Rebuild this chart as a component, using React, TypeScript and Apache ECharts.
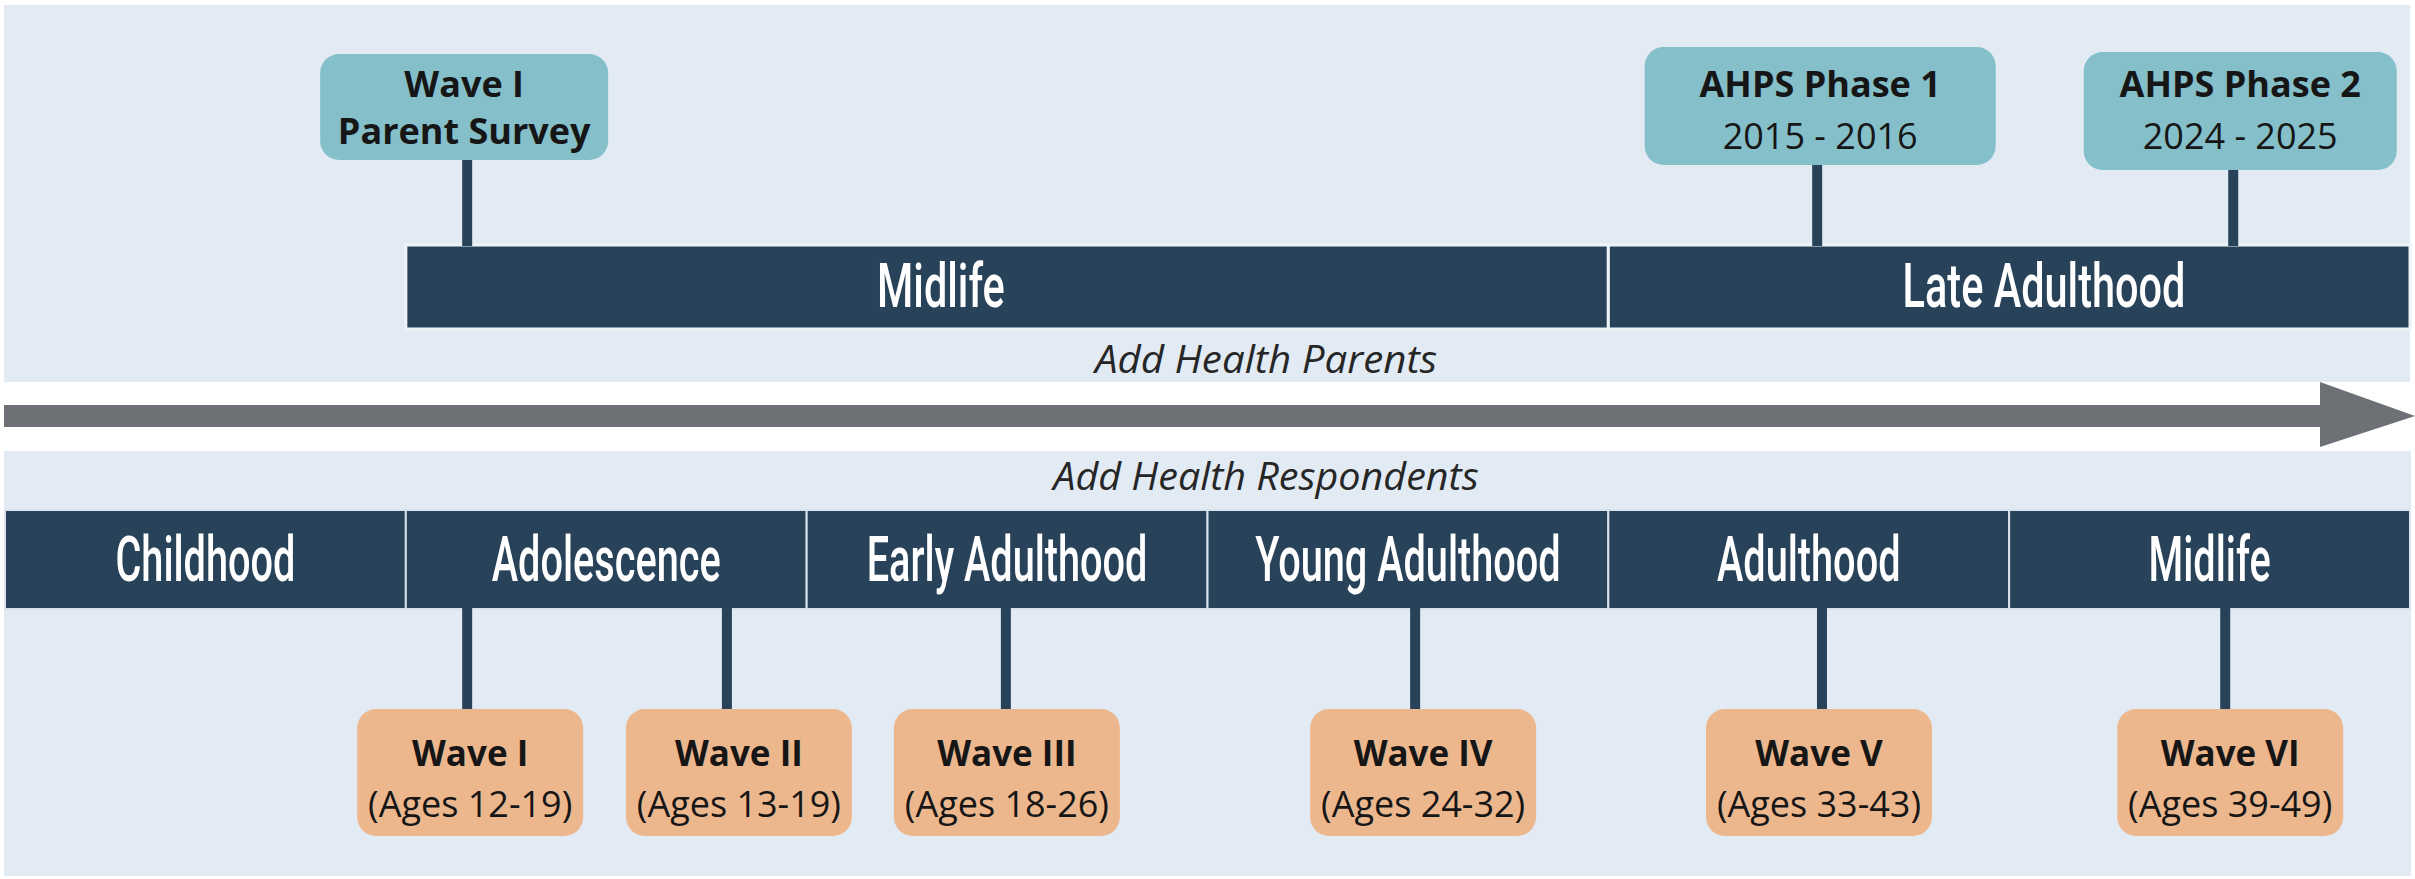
import React, { useEffect, useRef } from "react";
import * as echarts from "echarts";

// ---------- data ----------
const BOTTOM_STAGES = ["Childhood", "Adolescence", "Early Adulthood", "Young Adulthood", "Adulthood", "Midlife"];
const BOTTOM_STAGE_START = [0, 1, 2, 3, 4, 5];
const BOTTOM_STAGE_END = [1, 2, 3, 4, 5, 6];

const TOP_STAGES = ["Midlife", "Late Adulthood"];
const TOP_STAGE_START = [1, 4];
const TOP_STAGE_END = [4, 6];
const TOP_STAGE_LABEL_AT = [2.335, 5.087];

const WAVES = ["Wave I", "Wave II", "Wave III", "Wave IV", "Wave V", "Wave VI"];
const WAVE_AGES = ["(Ages 12-19)", "(Ages 13-19)", "(Ages 18-26)", "(Ages 24-32)", "(Ages 33-43)", "(Ages 39-49)"];
const WAVE_AT = [1.153, 1.801, 2.497, 3.518, 4.533, 5.539];

const PARENT_EVENTS = ["Wave I", "AHPS Phase 1", "AHPS Phase 2"];
const PARENT_EVENT_SUB = ["Parent Survey", "2015 - 2016", "2024 - 2025"];
const PARENT_EVENT_AT = [1.153, 4.521, 5.559];

const PANEL_LABELS = ["Add Health Parents", "Add Health Respondents"];

// ---------- layout / style ----------
const W = 2415;
const H = 879;
const NAVY = "#28425A";
const TEAL = "#84BFCA";
const ORANGE = "#EDB78E";
const PANEL = "#E2EAF3";
const ARROW = "#6D7075";
const INK = "#161616";
const SANS = "'Open Sans', 'Noto Sans', sans-serif";
const COND = "Roboto, 'Noto Sans', sans-serif";

const TOP_BAR = [245, 329];
const BOTTOM_BAR = [510, 609];
const TOP_BOX_W = [288, 351, 313];
const TOP_BOX_TOP = [54, 47, 52];
const TOP_BOX_H = [106, 118, 118];
const TOP_BOX_SHIFT = [-3, 3, 7];
const TOP_SUB_WEIGHT = ["bold", "normal", "normal"];
const WAVE_BOX_SHIFT = [3, 12, 1, 8, -3, 5];

function stageSeries(
  id: string,
  starts: number[],
  ends: number[],
  names: string[],
  labelAt: number[],
  y0: number,
  y1: number,
  fontSize: number,
  squeeze: number,
  sepColor: string,
  sepWidth: number
) {
  return {
    type: "custom",
    id,
    coordinateSystem: "cartesian2d",
    clip: false,
    z: 5,
    silent: true,
    data: starts.map((s, i) => [s, ends[i], labelAt[i]]),
    encode: { x: [0, 1, 2] },
    renderItem: (params: any, api: any) => {
      const i = params.dataIndex;
      const xa = api.coord([api.value(0), 0])[0];
      const xb = api.coord([api.value(1), 0])[0];
      const xl = api.coord([api.value(2), 0])[0];
      return {
        type: "group",
        children: [
          {
            type: "rect",
            shape: { x: xa, y: y0, width: xb - xa, height: y1 - y0 },
            style: { fill: NAVY, stroke: sepColor, lineWidth: sepWidth },
          },
          {
            type: "text",
            x: xl,
            y: (y0 + y1) / 2,
            scaleX: squeeze,
            style: {
              text: names[i],
              x: 0,
              y: 0,
              align: "center",
              verticalAlign: "middle",
              fill: "#FFFFFF",
              fontSize,
              fontWeight: 500,
              fontFamily: COND,
            },
          },
        ],
      };
    },
  };
}

export default function App() {
  const ref = useRef<HTMLDivElement>(null);

  useEffect(() => {
    if (!ref.current) return;
    const chart = echarts.init(ref.current, undefined, { renderer: "svg" });

    const waveSeries = {
      type: "custom",
      id: "waves",
      coordinateSystem: "cartesian2d",
      clip: false,
      z: 6,
      silent: true,
      data: WAVE_AT.map((v) => [v, 0]),
      renderItem: (params: any, api: any) => {
        const i = params.dataIndex;
        const x = api.coord([api.value(0), 0])[0];
        const bx = x + WAVE_BOX_SHIFT[i];
        const top = 709;
        return {
          type: "group",
          children: [
            {
              type: "rect",
              shape: { x: x - 5, y: BOTTOM_BAR[1] - 1, width: 10, height: top - BOTTOM_BAR[1] + 2 },
              style: { fill: NAVY },
            },
            {
              type: "rect",
              shape: { x: bx - 113, y: top, width: 226, height: 127, r: 19 },
              style: { fill: ORANGE },
            },
            {
              type: "text",
              style: {
                text: WAVES[i],
                x: bx,
                y: 752,
                align: "center",
                verticalAlign: "middle",
                fill: INK,
                fontSize: 35,
                fontWeight: "bold",
                fontFamily: SANS,
              },
            },
            {
              type: "text",
              style: {
                text: WAVE_AGES[i],
                x: bx,
                y: 803,
                align: "center",
                verticalAlign: "middle",
                fill: INK,
                fontSize: 36,
                fontWeight: "normal",
                fontFamily: SANS,
              },
            },
          ],
        };
      },
    };

    const parentSeries = {
      type: "custom",
      id: "parents",
      coordinateSystem: "cartesian2d",
      clip: false,
      z: 6,
      silent: true,
      data: PARENT_EVENT_AT.map((v) => [v, 0]),
      renderItem: (params: any, api: any) => {
        const i = params.dataIndex;
        const x = api.coord([api.value(0), 0])[0];
        const bx = x + TOP_BOX_SHIFT[i];
        const w = TOP_BOX_W[i];
        const top = TOP_BOX_TOP[i];
        const h = TOP_BOX_H[i];
        return {
          type: "group",
          children: [
            {
              type: "rect",
              shape: { x: x - 5, y: top + h - 2, width: 10, height: TOP_BAR[0] - (top + h) + 3 },
              style: { fill: NAVY },
            },
            {
              type: "rect",
              shape: { x: bx - w / 2, y: top, width: w, height: h, r: 19 },
              style: { fill: TEAL },
            },
            {
              type: "text",
              style: {
                text: PARENT_EVENTS[i],
                x: bx,
                y: 83,
                align: "center",
                verticalAlign: "middle",
                fill: INK,
                fontSize: 36,
                fontWeight: "bold",
                fontFamily: SANS,
              },
            },
            {
              type: "text",
              style: {
                text: PARENT_EVENT_SUB[i],
                x: bx,
                y: TOP_SUB_WEIGHT[i] === "bold" ? 130 : 135,
                align: "center",
                verticalAlign: "middle",
                fill: INK,
                fontSize: 36,
                fontWeight: TOP_SUB_WEIGHT[i],
                fontFamily: SANS,
              },
            },
          ],
        };
      },
    };

    const option: any = {
      animation: false,
      backgroundColor: "#FFFFFF",
      grid: { left: 5, right: 5, top: 0, bottom: 0, containLabel: false },
      xAxis: { type: "value", min: 0, max: 6, show: false },
      yAxis: { type: "value", min: 0, max: 1, show: false },
      graphic: [
        { type: "rect", z: 0, silent: true, shape: { x: 4, y: 5, width: 2406, height: 377 }, style: { fill: PANEL } },
        { type: "rect", z: 0, silent: true, shape: { x: 4, y: 451, width: 2407, height: 425 }, style: { fill: PANEL } },
        { type: "rect", z: 1, silent: true, shape: { x: 4, y: 405, width: 2320, height: 22 }, style: { fill: ARROW } },
        {
          type: "polygon",
          z: 1,
          silent: true,
          shape: { points: [[2320, 382], [2415, 416], [2320, 447]] },
          style: { fill: ARROW },
        },
        {
          type: "text",
          z: 10,
          silent: true,
          x: 1266,
          y: 358,
          scaleX: 1.06,
          style: {
            text: PANEL_LABELS[0],
            x: 0,
            y: 0,
            align: "center",
            verticalAlign: "middle",
            fill: "#262626",
            fontSize: 38,
            fontStyle: "italic",
            fontFamily: SANS,
          },
        },
        {
          type: "text",
          z: 10,
          silent: true,
          x: 1266,
          y: 475,
          scaleX: 1.04,
          style: {
            text: PANEL_LABELS[1],
            x: 0,
            y: 0,
            align: "center",
            verticalAlign: "middle",
            fill: "#262626",
            fontSize: 38,
            fontStyle: "italic",
            fontFamily: SANS,
          },
        },
      ],
      series: [
        stageSeries("topStages", TOP_STAGE_START, TOP_STAGE_END, TOP_STAGES, TOP_STAGE_LABEL_AT, TOP_BAR[0], TOP_BAR[1], 61, 0.68, "#EEF3F8", 3),
        stageSeries(
          "bottomStages",
          BOTTOM_STAGE_START,
          BOTTOM_STAGE_END,
          BOTTOM_STAGES,
          BOTTOM_STAGE_START.map((s, i) => (s + BOTTOM_STAGE_END[i]) / 2),
          BOTTOM_BAR[0],
          BOTTOM_BAR[1],
          63,
          0.63,
          "#D9E2EC",
          2
        ),
        waveSeries,
        parentSeries,
      ],
    };

    chart.setOption(option);
    return () => chart.dispose();
  }, []);

  return (
    <div
      ref={ref}
      style={{ position: "absolute", left: 0, top: 0, width: W, height: H, background: "#FFFFFF" }}
    />
  );
}
